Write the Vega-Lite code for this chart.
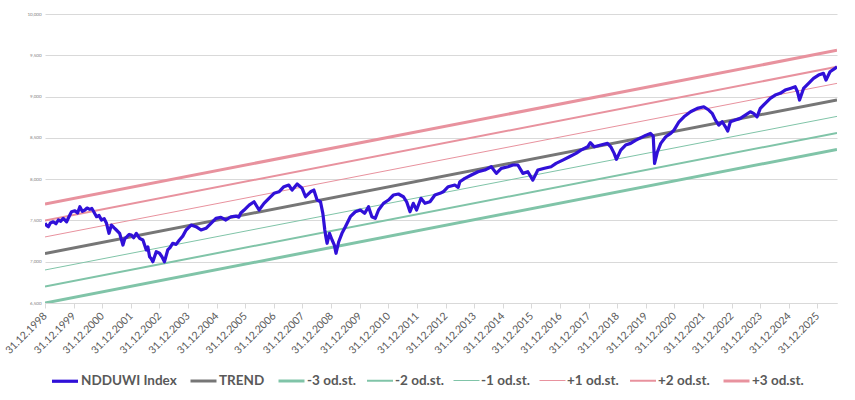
{
  "$schema": "https://vega.github.io/schema/vega-lite/v6.json",
  "autosize": "none",
  "width": 792,
  "height": 289,
  "padding": {"left": 45, "top": 14, "right": 18, "bottom": 97},
  "background": "white",
  "datasets": {
    "bands": [
      {"series": "TREND", "date": "1998-12-31", "v": 7.10},
      {"series": "TREND", "date": "2026-09-06", "v": 8.96},
      {"series": "-3 od.st.", "date": "1998-12-31", "v": 6.50},
      {"series": "-3 od.st.", "date": "2026-09-06", "v": 8.36},
      {"series": "-2 od.st.", "date": "1998-12-31", "v": 6.70},
      {"series": "-2 od.st.", "date": "2026-09-06", "v": 8.56},
      {"series": "-1 od.st.", "date": "1998-12-31", "v": 6.90},
      {"series": "-1 od.st.", "date": "2026-09-06", "v": 8.76},
      {"series": "+1 od.st.", "date": "1998-12-31", "v": 7.30},
      {"series": "+1 od.st.", "date": "2026-09-06", "v": 9.16},
      {"series": "+2 od.st.", "date": "1998-12-31", "v": 7.50},
      {"series": "+2 od.st.", "date": "2026-09-06", "v": 9.36},
      {"series": "+3 od.st.", "date": "1998-12-31", "v": 7.70},
      {"series": "+3 od.st.", "date": "2026-09-06", "v": 9.56}
    ],
    "index": [
      {"series": "NDDUWI Index", "date": "1998-12-31", "v": 7.465},
      {"series": "NDDUWI Index", "date": "1999-01-20", "v": 7.44},
      {"series": "NDDUWI Index", "date": "1999-02-12", "v": 7.424},
      {"series": "NDDUWI Index", "date": "1999-03-10", "v": 7.47},
      {"series": "NDDUWI Index", "date": "1999-04-15", "v": 7.484},
      {"series": "NDDUWI Index", "date": "1999-05-20", "v": 7.46},
      {"series": "NDDUWI Index", "date": "1999-06-19", "v": 7.505},
      {"series": "NDDUWI Index", "date": "1999-07-20", "v": 7.49},
      {"series": "NDDUWI Index", "date": "1999-08-21", "v": 7.525},
      {"series": "NDDUWI Index", "date": "1999-10-03", "v": 7.484},
      {"series": "NDDUWI Index", "date": "1999-11-05", "v": 7.55},
      {"series": "NDDUWI Index", "date": "1999-12-05", "v": 7.605},
      {"series": "NDDUWI Index", "date": "2000-01-17", "v": 7.617},
      {"series": "NDDUWI Index", "date": "2000-02-20", "v": 7.59},
      {"series": "NDDUWI Index", "date": "2000-03-20", "v": 7.666},
      {"series": "NDDUWI Index", "date": "2000-04-20", "v": 7.61},
      {"series": "NDDUWI Index", "date": "2000-05-23", "v": 7.626},
      {"series": "NDDUWI Index", "date": "2000-06-20", "v": 7.65},
      {"series": "NDDUWI Index", "date": "2000-07-25", "v": 7.634},
      {"series": "NDDUWI Index", "date": "2000-08-20", "v": 7.645},
      {"series": "NDDUWI Index", "date": "2000-09-06", "v": 7.617},
      {"series": "NDDUWI Index", "date": "2000-10-19", "v": 7.545},
      {"series": "NDDUWI Index", "date": "2000-11-20", "v": 7.56},
      {"series": "NDDUWI Index", "date": "2000-12-21", "v": 7.505},
      {"series": "NDDUWI Index", "date": "2001-01-25", "v": 7.52},
      {"series": "NDDUWI Index", "date": "2001-02-23", "v": 7.465},
      {"series": "NDDUWI Index", "date": "2001-03-27", "v": 7.344},
      {"series": "NDDUWI Index", "date": "2001-04-27", "v": 7.444},
      {"series": "NDDUWI Index", "date": "2001-06-01", "v": 7.41},
      {"series": "NDDUWI Index", "date": "2001-06-29", "v": 7.384},
      {"series": "NDDUWI Index", "date": "2001-08-10", "v": 7.344},
      {"series": "NDDUWI Index", "date": "2001-09-21", "v": 7.202},
      {"series": "NDDUWI Index", "date": "2001-10-15", "v": 7.28},
      {"series": "NDDUWI Index", "date": "2001-11-11", "v": 7.303},
      {"series": "NDDUWI Index", "date": "2001-12-10", "v": 7.33},
      {"series": "NDDUWI Index", "date": "2002-01-07", "v": 7.323},
      {"series": "NDDUWI Index", "date": "2002-02-05", "v": 7.29},
      {"series": "NDDUWI Index", "date": "2002-03-11", "v": 7.344},
      {"series": "NDDUWI Index", "date": "2002-04-22", "v": 7.283},
      {"series": "NDDUWI Index", "date": "2002-06-03", "v": 7.263},
      {"series": "NDDUWI Index", "date": "2002-07-16", "v": 7.142},
      {"series": "NDDUWI Index", "date": "2002-08-05", "v": 7.18},
      {"series": "NDDUWI Index", "date": "2002-08-27", "v": 7.061},
      {"series": "NDDUWI Index", "date": "2002-09-15", "v": 7.04},
      {"series": "NDDUWI Index", "date": "2002-10-08", "v": 7.000},
      {"series": "NDDUWI Index", "date": "2002-11-20", "v": 7.121},
      {"series": "NDDUWI Index", "date": "2003-01-01", "v": 7.102},
      {"series": "NDDUWI Index", "date": "2003-02-01", "v": 7.06},
      {"series": "NDDUWI Index", "date": "2003-03-05", "v": 7.000},
      {"series": "NDDUWI Index", "date": "2003-04-16", "v": 7.142},
      {"series": "NDDUWI Index", "date": "2003-05-15", "v": 7.17},
      {"series": "NDDUWI Index", "date": "2003-06-18", "v": 7.223},
      {"series": "NDDUWI Index", "date": "2003-08-01", "v": 7.21},
      {"series": "NDDUWI Index", "date": "2003-09-12", "v": 7.263},
      {"series": "NDDUWI Index", "date": "2003-10-25", "v": 7.31},
      {"series": "NDDUWI Index", "date": "2003-12-06", "v": 7.384},
      {"series": "NDDUWI Index", "date": "2004-02-08", "v": 7.444},
      {"series": "NDDUWI Index", "date": "2004-04-11", "v": 7.424},
      {"series": "NDDUWI Index", "date": "2004-06-14", "v": 7.384},
      {"series": "NDDUWI Index", "date": "2004-08-16", "v": 7.404},
      {"series": "NDDUWI Index", "date": "2004-10-19", "v": 7.465},
      {"series": "NDDUWI Index", "date": "2004-12-21", "v": 7.525},
      {"series": "NDDUWI Index", "date": "2005-02-23", "v": 7.538},
      {"series": "NDDUWI Index", "date": "2005-04-27", "v": 7.505},
      {"series": "NDDUWI Index", "date": "2005-06-30", "v": 7.545},
      {"series": "NDDUWI Index", "date": "2005-09-01", "v": 7.553},
      {"series": "NDDUWI Index", "date": "2005-10-10", "v": 7.54},
      {"series": "NDDUWI Index", "date": "2005-11-04", "v": 7.590},
      {"series": "NDDUWI Index", "date": "2005-12-16", "v": 7.626},
      {"series": "NDDUWI Index", "date": "2006-02-18", "v": 7.686},
      {"series": "NDDUWI Index", "date": "2006-04-22", "v": 7.726},
      {"series": "NDDUWI Index", "date": "2006-06-25", "v": 7.626},
      {"series": "NDDUWI Index", "date": "2006-08-27", "v": 7.707},
      {"series": "NDDUWI Index", "date": "2006-10-29", "v": 7.768},
      {"series": "NDDUWI Index", "date": "2007-01-02", "v": 7.828},
      {"series": "NDDUWI Index", "date": "2007-03-06", "v": 7.847},
      {"series": "NDDUWI Index", "date": "2007-05-08", "v": 7.908},
      {"series": "NDDUWI Index", "date": "2007-07-10", "v": 7.929},
      {"series": "NDDUWI Index", "date": "2007-08-21", "v": 7.868},
      {"series": "NDDUWI Index", "date": "2007-10-24", "v": 7.941},
      {"series": "NDDUWI Index", "date": "2007-12-27", "v": 7.889},
      {"series": "NDDUWI Index", "date": "2008-02-08", "v": 7.787},
      {"series": "NDDUWI Index", "date": "2008-04-12", "v": 7.847},
      {"series": "NDDUWI Index", "date": "2008-05-24", "v": 7.868},
      {"series": "NDDUWI Index", "date": "2008-07-05", "v": 7.747},
      {"series": "NDDUWI Index", "date": "2008-08-17", "v": 7.726},
      {"series": "NDDUWI Index", "date": "2008-09-16", "v": 7.586},
      {"series": "NDDUWI Index", "date": "2008-10-11", "v": 7.384},
      {"series": "NDDUWI Index", "date": "2008-10-25", "v": 7.30},
      {"series": "NDDUWI Index", "date": "2008-11-09", "v": 7.223},
      {"series": "NDDUWI Index", "date": "2008-12-10", "v": 7.344},
      {"series": "NDDUWI Index", "date": "2009-01-12", "v": 7.263},
      {"series": "NDDUWI Index", "date": "2009-02-10", "v": 7.20},
      {"series": "NDDUWI Index", "date": "2009-03-03", "v": 7.102},
      {"series": "NDDUWI Index", "date": "2009-04-07", "v": 7.242},
      {"series": "NDDUWI Index", "date": "2009-05-18", "v": 7.344},
      {"series": "NDDUWI Index", "date": "2009-07-01", "v": 7.424},
      {"series": "NDDUWI Index", "date": "2009-09-02", "v": 7.545},
      {"series": "NDDUWI Index", "date": "2009-11-05", "v": 7.605},
      {"series": "NDDUWI Index", "date": "2010-01-08", "v": 7.626},
      {"series": "NDDUWI Index", "date": "2010-03-03", "v": 7.586},
      {"series": "NDDUWI Index", "date": "2010-04-22", "v": 7.666},
      {"series": "NDDUWI Index", "date": "2010-06-04", "v": 7.545},
      {"series": "NDDUWI Index", "date": "2010-07-17", "v": 7.525},
      {"series": "NDDUWI Index", "date": "2010-08-28", "v": 7.626},
      {"series": "NDDUWI Index", "date": "2010-10-30", "v": 7.707},
      {"series": "NDDUWI Index", "date": "2011-01-02", "v": 7.747},
      {"series": "NDDUWI Index", "date": "2011-03-07", "v": 7.808},
      {"series": "NDDUWI Index", "date": "2011-05-09", "v": 7.820},
      {"series": "NDDUWI Index", "date": "2011-07-11", "v": 7.787},
      {"series": "NDDUWI Index", "date": "2011-08-22", "v": 7.726},
      {"series": "NDDUWI Index", "date": "2011-10-04", "v": 7.605},
      {"series": "NDDUWI Index", "date": "2011-11-15", "v": 7.707},
      {"series": "NDDUWI Index", "date": "2011-12-27", "v": 7.626},
      {"series": "NDDUWI Index", "date": "2012-02-21", "v": 7.768},
      {"series": "NDDUWI Index", "date": "2012-04-12", "v": 7.707},
      {"series": "NDDUWI Index", "date": "2012-06-15", "v": 7.726},
      {"series": "NDDUWI Index", "date": "2012-08-17", "v": 7.808},
      {"series": "NDDUWI Index", "date": "2012-10-20", "v": 7.828},
      {"series": "NDDUWI Index", "date": "2012-12-01", "v": 7.847},
      {"series": "NDDUWI Index", "date": "2013-02-03", "v": 7.908},
      {"series": "NDDUWI Index", "date": "2013-04-28", "v": 7.929},
      {"series": "NDDUWI Index", "date": "2013-06-10", "v": 7.90},
      {"series": "NDDUWI Index", "date": "2013-07-01", "v": 7.969},
      {"series": "NDDUWI Index", "date": "2013-09-03", "v": 8.010},
      {"series": "NDDUWI Index", "date": "2013-11-25", "v": 8.050},
      {"series": "NDDUWI Index", "date": "2014-02-19", "v": 8.090},
      {"series": "NDDUWI Index", "date": "2014-05-15", "v": 8.110},
      {"series": "NDDUWI Index", "date": "2014-08-07", "v": 8.150},
      {"series": "NDDUWI Index", "date": "2014-10-10", "v": 8.070},
      {"series": "NDDUWI Index", "date": "2014-12-12", "v": 8.131},
      {"series": "NDDUWI Index", "date": "2015-03-08", "v": 8.150},
      {"series": "NDDUWI Index", "date": "2015-05-10", "v": 8.171},
      {"series": "NDDUWI Index", "date": "2015-07-12", "v": 8.171},
      {"series": "NDDUWI Index", "date": "2015-09-14", "v": 8.070},
      {"series": "NDDUWI Index", "date": "2015-11-16", "v": 8.090},
      {"series": "NDDUWI Index", "date": "2016-01-19", "v": 7.989},
      {"series": "NDDUWI Index", "date": "2016-03-23", "v": 8.110},
      {"series": "NDDUWI Index", "date": "2016-06-16", "v": 8.131},
      {"series": "NDDUWI Index", "date": "2016-09-08", "v": 8.150},
      {"series": "NDDUWI Index", "date": "2016-11-10", "v": 8.191},
      {"series": "NDDUWI Index", "date": "2017-02-04", "v": 8.231},
      {"series": "NDDUWI Index", "date": "2017-04-30", "v": 8.271},
      {"series": "NDDUWI Index", "date": "2017-07-23", "v": 8.312},
      {"series": "NDDUWI Index", "date": "2017-09-24", "v": 8.352},
      {"series": "NDDUWI Index", "date": "2017-12-19", "v": 8.392},
      {"series": "NDDUWI Index", "date": "2018-01-22", "v": 8.441},
      {"series": "NDDUWI Index", "date": "2018-03-13", "v": 8.392},
      {"series": "NDDUWI Index", "date": "2018-06-05", "v": 8.413},
      {"series": "NDDUWI Index", "date": "2018-08-29", "v": 8.433},
      {"series": "NDDUWI Index", "date": "2018-10-10", "v": 8.392},
      {"series": "NDDUWI Index", "date": "2018-11-22", "v": 8.312},
      {"series": "NDDUWI Index", "date": "2018-12-21", "v": 8.240},
      {"series": "NDDUWI Index", "date": "2019-02-14", "v": 8.352},
      {"series": "NDDUWI Index", "date": "2019-04-17", "v": 8.413},
      {"series": "NDDUWI Index", "date": "2019-06-20", "v": 8.433},
      {"series": "NDDUWI Index", "date": "2019-08-22", "v": 8.470},
      {"series": "NDDUWI Index", "date": "2019-10-25", "v": 8.500},
      {"series": "NDDUWI Index", "date": "2019-12-28", "v": 8.530},
      {"series": "NDDUWI Index", "date": "2020-02-28", "v": 8.554},
      {"series": "NDDUWI Index", "date": "2020-04-04", "v": 8.520},
      {"series": "NDDUWI Index", "date": "2020-04-21", "v": 8.190},
      {"series": "NDDUWI Index", "date": "2020-05-28", "v": 8.332},
      {"series": "NDDUWI Index", "date": "2020-07-09", "v": 8.433},
      {"series": "NDDUWI Index", "date": "2020-09-11", "v": 8.513},
      {"series": "NDDUWI Index", "date": "2020-11-13", "v": 8.554},
      {"series": "NDDUWI Index", "date": "2020-12-25", "v": 8.594},
      {"series": "NDDUWI Index", "date": "2021-02-27", "v": 8.695},
      {"series": "NDDUWI Index", "date": "2021-05-01", "v": 8.755},
      {"series": "NDDUWI Index", "date": "2021-07-25", "v": 8.816},
      {"series": "NDDUWI Index", "date": "2021-10-18", "v": 8.857},
      {"series": "NDDUWI Index", "date": "2022-01-10", "v": 8.876},
      {"series": "NDDUWI Index", "date": "2022-03-14", "v": 8.837},
      {"series": "NDDUWI Index", "date": "2022-04-26", "v": 8.797},
      {"series": "NDDUWI Index", "date": "2022-06-08", "v": 8.715},
      {"series": "NDDUWI Index", "date": "2022-07-20", "v": 8.655},
      {"series": "NDDUWI Index", "date": "2022-09-02", "v": 8.695},
      {"series": "NDDUWI Index", "date": "2022-10-13", "v": 8.634},
      {"series": "NDDUWI Index", "date": "2022-11-11", "v": 8.582},
      {"series": "NDDUWI Index", "date": "2022-12-15", "v": 8.695},
      {"series": "NDDUWI Index", "date": "2023-02-17", "v": 8.715},
      {"series": "NDDUWI Index", "date": "2023-04-21", "v": 8.736},
      {"series": "NDDUWI Index", "date": "2023-06-24", "v": 8.776},
      {"series": "NDDUWI Index", "date": "2023-08-26", "v": 8.816},
      {"series": "NDDUWI Index", "date": "2023-10-07", "v": 8.797},
      {"series": "NDDUWI Index", "date": "2023-11-20", "v": 8.755},
      {"series": "NDDUWI Index", "date": "2024-01-01", "v": 8.857},
      {"series": "NDDUWI Index", "date": "2024-03-04", "v": 8.918},
      {"series": "NDDUWI Index", "date": "2024-05-07", "v": 8.978},
      {"series": "NDDUWI Index", "date": "2024-07-09", "v": 9.018},
      {"series": "NDDUWI Index", "date": "2024-09-11", "v": 9.039},
      {"series": "NDDUWI Index", "date": "2024-11-13", "v": 9.079},
      {"series": "NDDUWI Index", "date": "2025-01-17", "v": 9.099},
      {"series": "NDDUWI Index", "date": "2025-03-21", "v": 9.119},
      {"series": "NDDUWI Index", "date": "2025-04-20", "v": 9.058},
      {"series": "NDDUWI Index", "date": "2025-05-16", "v": 8.958},
      {"series": "NDDUWI Index", "date": "2025-07-06", "v": 9.099},
      {"series": "NDDUWI Index", "date": "2025-09-08", "v": 9.160},
      {"series": "NDDUWI Index", "date": "2025-11-10", "v": 9.220},
      {"series": "NDDUWI Index", "date": "2026-01-13", "v": 9.260},
      {"series": "NDDUWI Index", "date": "2026-03-17", "v": 9.281},
      {"series": "NDDUWI Index", "date": "2026-04-19", "v": 9.200},
      {"series": "NDDUWI Index", "date": "2026-06-09", "v": 9.300},
      {"series": "NDDUWI Index", "date": "2026-08-11", "v": 9.341},
      {"series": "NDDUWI Index", "date": "2026-09-06", "v": 9.361}
    ]
  },
  "encoding": {
    "x": {
      "field": "date",
      "type": "temporal",
      "scale": {
        "type": "utc",
        "domain": [
          {"year": 1998, "month": 12, "date": 31, "utc": true},
          {"year": 2026, "month": 9, "date": 6, "utc": true}
        ]
      },
      "axis": {
        "title": null,
        "format": "%d.%m.%Y",
        "values": [
          {"year": 1998, "month": 12, "date": 31, "utc": true},
          {"year": 1999, "month": 12, "date": 31, "utc": true},
          {"year": 2000, "month": 12, "date": 31, "utc": true},
          {"year": 2001, "month": 12, "date": 31, "utc": true},
          {"year": 2002, "month": 12, "date": 31, "utc": true},
          {"year": 2003, "month": 12, "date": 31, "utc": true},
          {"year": 2004, "month": 12, "date": 31, "utc": true},
          {"year": 2005, "month": 12, "date": 31, "utc": true},
          {"year": 2006, "month": 12, "date": 31, "utc": true},
          {"year": 2007, "month": 12, "date": 31, "utc": true},
          {"year": 2008, "month": 12, "date": 31, "utc": true},
          {"year": 2009, "month": 12, "date": 31, "utc": true},
          {"year": 2010, "month": 12, "date": 31, "utc": true},
          {"year": 2011, "month": 12, "date": 31, "utc": true},
          {"year": 2012, "month": 12, "date": 31, "utc": true},
          {"year": 2013, "month": 12, "date": 31, "utc": true},
          {"year": 2014, "month": 12, "date": 31, "utc": true},
          {"year": 2015, "month": 12, "date": 31, "utc": true},
          {"year": 2016, "month": 12, "date": 31, "utc": true},
          {"year": 2017, "month": 12, "date": 31, "utc": true},
          {"year": 2018, "month": 12, "date": 31, "utc": true},
          {"year": 2019, "month": 12, "date": 31, "utc": true},
          {"year": 2020, "month": 12, "date": 31, "utc": true},
          {"year": 2021, "month": 12, "date": 31, "utc": true},
          {"year": 2022, "month": 12, "date": 31, "utc": true},
          {"year": 2023, "month": 12, "date": 31, "utc": true},
          {"year": 2024, "month": 12, "date": 31, "utc": true},
          {"year": 2025, "month": 12, "date": 31, "utc": true}
        ],
        "labelAngle": -45,
        "labelAlign": "right",
        "labelBaseline": "middle",
        "labelPadding": 6,
        "labelFont": "Lato",
        "labelFontSize": 10.5,
        "labelColor": "#595959",
        "labelOverlap": false,
        "grid": false,
        "domainColor": "#d9d9d9",
        "tickColor": "#d9d9d9",
        "tickSize": 5
      }
    },
    "y": {
      "field": "v",
      "type": "quantitative",
      "scale": {"domain": [6.5, 10], "nice": false, "zero": false},
      "axis": {
        "title": null,
        "values": [6.5, 7, 7.5, 8, 8.5, 9, 9.5, 10],
        "format": ".3f",
        "grid": true,
        "gridColor": "#d9d9d9",
        "domain": false,
        "ticks": false,
        "labelFont": "Lato",
        "labelFontSize": 4.5,
        "labelColor": "#7f7f7f",
        "labelPadding": 4
      }
    },
    "color": {
      "field": "series",
      "type": "ordinal",
      "scale": {
        "type": "ordinal",
        "domain": ["NDDUWI Index", "TREND", "-3 od.st.", "-2 od.st.", "-1 od.st.", "+1 od.st.", "+2 od.st.", "+3 od.st."],
        "range": ["#3010d8", "#767676", "#80c4a8", "#80c4a8", "#80c4a8", "#e8929e", "#e8929e", "#e8929e"]
      },
      "legend": {
        "title": null,
        "orient": "none",
        "direction": "horizontal",
        "legendX": 5,
        "legendY": 352,
        "symbolType": "stroke",
        "symbolSize": 676,
        "labelFont": "Lato",
        "labelFontSize": 13.5,
        "labelFontWeight": "bold",
        "labelColor": "#595959",
        "labelOffset": 1,
        "columnPadding": 7,
        "labelLimit": 200
      }
    },
    "strokeWidth": {
      "field": "series",
      "type": "ordinal",
      "scale": {
        "type": "ordinal",
        "domain": ["NDDUWI Index", "TREND", "-3 od.st.", "-2 od.st.", "-1 od.st.", "+1 od.st.", "+2 od.st.", "+3 od.st."],
        "range": [3.2, 3, 3, 2, 1, 1, 2, 3]
      },
      "legend": {
        "title": null,
        "orient": "none",
        "direction": "horizontal",
        "legendX": 5,
        "legendY": 352,
        "symbolType": "stroke",
        "symbolSize": 676,
        "labelFont": "Lato",
        "labelFontSize": 13.5,
        "labelFontWeight": "bold",
        "labelColor": "#595959",
        "labelOffset": 1,
        "columnPadding": 7,
        "labelLimit": 200
      }
    }
  },
  "layer": [
    {
      "data": {"name": "bands"},
      "mark": {"type": "line", "clip": true}
    },
    {
      "data": {"name": "index"},
      "mark": {"type": "line", "clip": true, "strokeJoin": "round"}
    }
  ],
  "config": {
    "view": {"stroke": null},
    "locale": {
      "number": {"decimal": ",", "thousands": ".", "grouping": [3], "currency": ["", " zł"]}
    }
  }
}
